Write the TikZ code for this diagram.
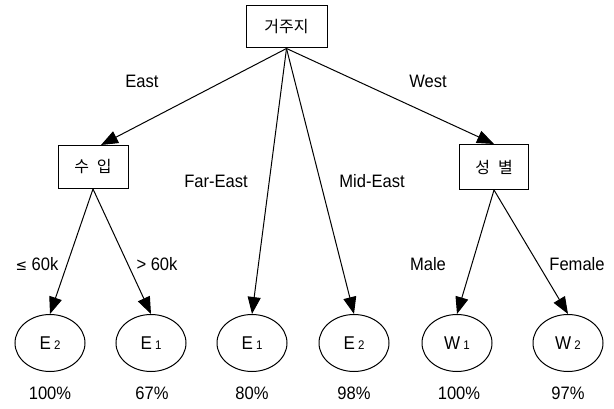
\documentclass[tikz,border=0pt]{standalone}
\usepackage{fontspec}
\setmainfont{Liberation Sans}[FakeStretch=0.92]
\newfontfamily\kofont{Noto Sans CJK KR}
\newfontfamily\symfont{DejaVu Sans}[FakeStretch=0.92]
\usetikzlibrary{shapes.geometric,arrows.meta}
\newcommand{\sbn}[1]{\raisebox{-0.3pt}{\fontsize{12.5}{12.5}\selectfont #1}}
\begin{document}
\begin{tikzpicture}[x=1pt,y=-1pt,
  every node/.style={font=\fontsize{18}{20}\selectfont},
  kbox/.style={draw,line width=1pt,rectangle,inner sep=0pt,font=\kofont\fontsize{16}{18}\selectfont},
  leaf/.style={draw,line width=1pt,ellipse,minimum width=70pt,minimum height=57pt,inner sep=0pt,font=\fontsize{18.5}{20}\selectfont},
  conn/.style={line width=1pt,-{Triangle[length=17pt,width=13pt]}},
  lbl/.style={inner sep=0pt}]
\useasboundingbox (0,0) rectangle (614,409);
\node[kbox,minimum width=81pt,minimum height=42pt] (root) at (286.5,27) {거주지};
\node[kbox,minimum width=70pt,minimum height=43pt] (inc) at (93,167) {수\hspace{8pt}입};
\node[kbox,minimum width=69pt,minimum height=45pt] (sex) at (494,167) {성\hspace{8pt}별};
\node[leaf] (a) at (50,343) {E\,\sbn{2}};
\node[leaf] (b) at (151,343) {E\,\sbn{1}};
\node[leaf] (c) at (252,343) {E\,\sbn{1}};
\node[leaf] (d) at (354,343) {E\,\sbn{2}};
\node[leaf] (e) at (457,343) {W\,\sbn{1}};
\node[leaf] (f) at (568,343) {W\,\sbn{2}};
\draw[conn] (root.south) -- (inc.70);
\draw[conn] (root.south) -- (c.north);
\draw[conn] (root.south) -- (d.north);
\draw[conn] (root.south) -- (sex.north);
\draw[conn] (inc.south) -- (a.north);
\draw[conn] (inc.south) -- (b.north);
\draw[conn] (sex.south) -- (e.north);
\draw[conn] (sex.south) -- (f.north);
\node[lbl] (lEast) at (142,81) {East};
\node[lbl] (lWest) at (428,81) {West};
\node[lbl] (lFar) at (216,181) {Far-East};
\node[lbl] (lMid) at (372,181) {Mid-East};
\node[lbl] (lle) at (37,264) {{\symfont\fontsize{15}{16}\selectfont ≤}\ 60k};
\node[lbl] (lgt) at (157,264) {> 60k};
\node[lbl] (lMale) at (428,264) {Male};
\node[lbl] (lFemale) at (577,264) {Female};
\node[lbl] (p1) at (50,393) {100\%};
\node[lbl] (p2) at (152,393) {67\%};
\node[lbl] (p3) at (252,393) {80\%};
\node[lbl] (p4) at (354,393) {98\%};
\node[lbl] (p5) at (459,393) {100\%};
\node[lbl] (p6) at (568,393) {97\%};
\end{tikzpicture}
\end{document}
